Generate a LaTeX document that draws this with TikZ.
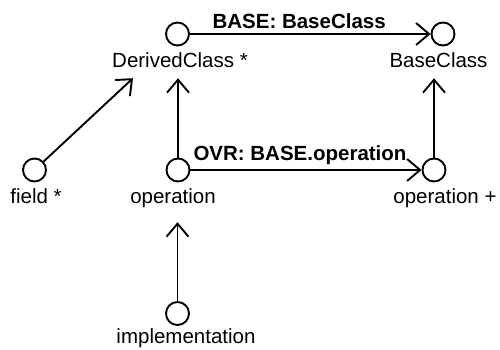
\documentclass[tikz,border=0pt]{standalone}
\usepackage{fontspec}
\setmainfont{Liberation Sans}
\usetikzlibrary{arrows.meta,positioning,calc}

\begin{document}
\begin{tikzpicture}[
  x=1pt, y=-1pt,
  font=\fontsize{20.5}{24}\selectfont,
  port/.style={draw, circle, line width=1.9pt, minimum size=23pt, inner sep=0pt},
  lbl/.style={anchor=base, inner xsep=1pt, inner ysep=6pt, text depth=5pt},
  elbl/.style={anchor=base, font=\fontsize{20.5}{24}\selectfont\bfseries, inner sep=0pt},
  ar/.style={-{Straight Barb[length=13pt, width=22pt]}, line width=1.9pt}
]
\useasboundingbox (0,0) rectangle (500,349);

\node[port] (dc) at (177.5,34) {};
\node[port] (bc) at (443,34) {};
\node[port] (fld) at (34.5,170) {};
\node[port] (op) at (178,170) {};
\node[port] (opp) at (434,170) {};
\node[port] (impl) at (177.5,313.5) {};

\node[lbl] (dclbl) at (180,67) {DerivedClass *};
\node[lbl] (bclbl) at (438.5,67) {BaseClass};
\node[lbl] (fldlbl) at (36,203) {field *};
\node[lbl, inner ysep=14pt] (oplbl) at (173,203) {operation};
\node[lbl] (opplbl) at (445,203) {operation +};
\node[lbl] (impllbl) at (186,343) {implementation};

\draw[ar] (dc) -- node[elbl, pos=.454, yshift=5.5pt] {BASE: BaseClass} (bc);
\draw[ar] (op) -- node[elbl, pos=.474, yshift=10pt] {OVR: BASE.operation} (opp);
\draw[ar] (fld) -- ([xshift=22pt]dclbl.south west);
\draw[ar] (op) -- (op |- dclbl.south);
\draw[ar] (opp) -- (opp |- bclbl.south);
\draw[ar] (impl) -- (impl |- oplbl.south);
\end{tikzpicture}
\end{document}
